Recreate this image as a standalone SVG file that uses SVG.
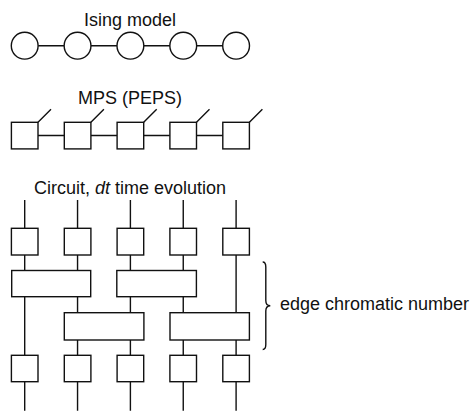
<svg xmlns="http://www.w3.org/2000/svg" width="474" height="412" viewBox="0 0 474 412">
<style>
.s{fill:#fff;stroke:#111;stroke-width:1.4}
.l{fill:none;stroke:#111;stroke-width:1.4}
.t{font-family:"Liberation Sans",Arial,sans-serif;font-size:18px;fill:#111}
</style>
<rect width="474" height="412" fill="#fff"/>
<g id="connectors" class="l">
<path d="M38.2,45.7H64M91,45.7H117M144,45.7H170M197,45.7H223"/>
<path d="M38,135.5H64.3M90.9,135.5H117.1M143.7,135.5H169.9M196.5,135.5H222.8"/>
<path d="M38,122.3L51,109.3M90.9,122.3L103.9,109.3M143.7,122.3L156.7,109.3M196.5,122.3L209.5,109.3M249.4,122.3L262.4,109.3"/>
<path d="M24.7,200V228.3M77.55,200V228.3M130.4,200V228.3M183.25,200V228.3M236.1,200V228.3"/>
<path d="M24.7,255V270.5M77.55,255V270.5M130.4,255V270.5M183.25,255V270.5M236.1,255V312.7"/>
<path d="M24.7,296.7V355.3M77.55,296.7V312.7M130.4,296.7V312.7M183.25,296.7V312.7"/>
<path d="M77.55,340V355.3M130.4,340V355.3M183.25,340V355.3M236.1,340V355.3"/>
<path d="M24.7,381.7V410.7M77.55,381.7V410.7M130.4,381.7V410.7M183.25,381.7V410.7M236.1,381.7V410.7"/>
<path d="M262.7,262C265.2,262 265.8,263.5 265.8,267L265.8,300.5C265.8,304 267,305.7 270.3,305.7C267,305.7 265.8,307.4 265.8,311L265.8,344.5C265.8,348 265.2,349.5 262.7,349.5"/>
</g>
<g id="ising">
<text class="t" x="130" y="25.5" text-anchor="middle">Ising model</text>
<circle class="s" cx="24.7" cy="45.7" r="13.4"/>
<circle class="s" cx="77.55" cy="45.7" r="13.4"/>
<circle class="s" cx="130.4" cy="45.7" r="13.4"/>
<circle class="s" cx="183.25" cy="45.7" r="13.4"/>
<circle class="s" cx="236.1" cy="45.7" r="13.4"/>
</g>
<g id="mps">
<text class="t" x="130" y="104" text-anchor="middle">MPS (PEPS)</text>
<rect class="s" x="11.4" y="122.3" width="26.6" height="26.6"/>
<rect class="s" x="64.3" y="122.3" width="26.6" height="26.6"/>
<rect class="s" x="117.1" y="122.3" width="26.6" height="26.6"/>
<rect class="s" x="169.9" y="122.3" width="26.6" height="26.6"/>
<rect class="s" x="222.8" y="122.3" width="26.6" height="26.6"/>
</g>
<g id="circuit">
<text class="t" x="130" y="194" text-anchor="middle">Circuit, <tspan font-style="italic">dt</tspan> time evolution</text>
<g id="top-gates">
<rect class="s" x="11.4" y="228.3" width="26.6" height="26.7"/>
<rect class="s" x="64.3" y="228.3" width="26.6" height="26.7"/>
<rect class="s" x="117.1" y="228.3" width="26.6" height="26.7"/>
<rect class="s" x="169.9" y="228.3" width="26.6" height="26.7"/>
<rect class="s" x="222.8" y="228.3" width="26.6" height="26.7"/>
</g>
<g id="layer1">
<rect class="s" x="11.7" y="270.5" width="79" height="26.2"/>
<rect class="s" x="116.8" y="270.5" width="79.6" height="26.2"/>
</g>
<g id="layer2">
<rect class="s" x="64.3" y="312.7" width="79.6" height="27.3"/>
<rect class="s" x="170" y="312.7" width="79.4" height="27.3"/>
</g>
<g id="bottom-gates">
<rect class="s" x="11.4" y="355.3" width="26.6" height="26.4"/>
<rect class="s" x="64.3" y="355.3" width="26.6" height="26.4"/>
<rect class="s" x="117.1" y="355.3" width="26.6" height="26.4"/>
<rect class="s" x="169.9" y="355.3" width="26.6" height="26.4"/>
<rect class="s" x="222.8" y="355.3" width="26.6" height="26.4"/>
</g>
</g>
<g id="label">
<text class="t" x="280" y="310">edge chromatic number</text>
</g>
</svg>
